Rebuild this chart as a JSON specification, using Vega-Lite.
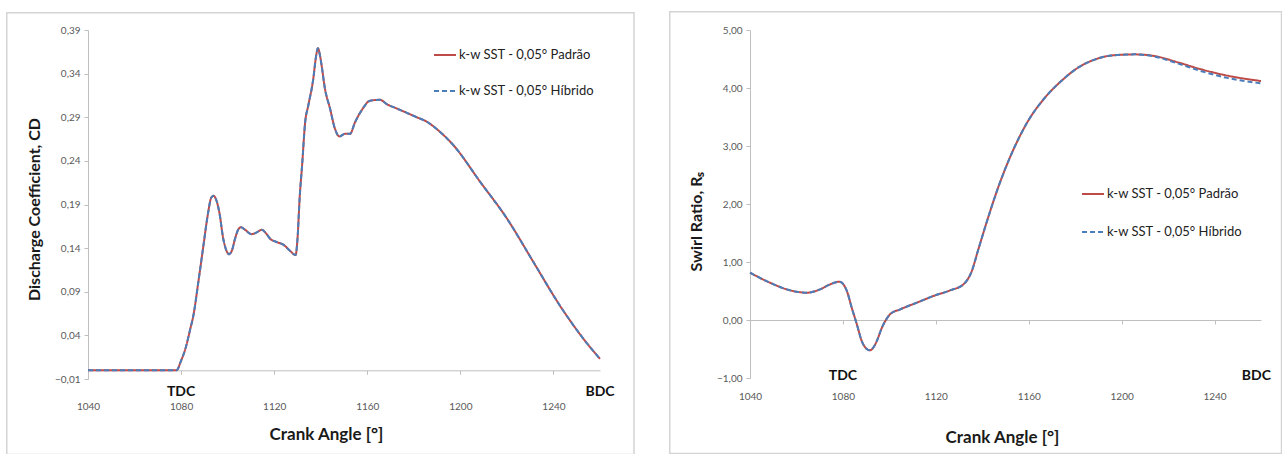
{
  "$schema": "https://vega.github.io/schema/vega-lite/v6.json",
  "padding": {"left": 6, "top": 10, "right": 0, "bottom": 0},
  "background": "white",
  "spacing": 33,
  "config": {
    "font": "Lato",
    "view": {"stroke": null},
    "axis": {
      "grid": false,
      "domainColor": "#bfbfbf",
      "tickColor": "#bfbfbf",
      "tickSize": 4,
      "labelFontSize": 10,
      "labelColor": "#595959",
      "labelFlush": false,
      "titleFontWeight": "bold",
      "titleColor": "#1a1a1a"
    }
  },
  "datasets": {
    "cd": [
      {"a": 1040, "P": 0, "H": 0},
      {"a": 1060, "P": 0, "H": 0},
      {"a": 1078, "P": 0, "H": 0},
      {"a": 1080, "P": 0.011, "H": 0.011},
      {"a": 1082, "P": 0.026, "H": 0.026},
      {"a": 1084, "P": 0.048, "H": 0.048},
      {"a": 1085.3, "P": 0.063, "H": 0.063},
      {"a": 1087.4, "P": 0.101, "H": 0.101},
      {"a": 1089.6, "P": 0.143, "H": 0.143},
      {"a": 1091.4, "P": 0.177, "H": 0.177},
      {"a": 1093, "P": 0.198, "H": 0.198},
      {"a": 1094, "P": 0.2, "H": 0.2},
      {"a": 1095, "P": 0.196, "H": 0.196},
      {"a": 1096.5, "P": 0.18, "H": 0.18},
      {"a": 1098.1, "P": 0.151, "H": 0.151},
      {"a": 1099.5, "P": 0.137, "H": 0.137},
      {"a": 1100.6, "P": 0.133, "H": 0.133},
      {"a": 1101.8, "P": 0.137, "H": 0.137},
      {"a": 1103.2, "P": 0.151, "H": 0.151},
      {"a": 1104.5, "P": 0.161, "H": 0.161},
      {"a": 1105.7, "P": 0.164, "H": 0.164},
      {"a": 1107.5, "P": 0.161, "H": 0.161},
      {"a": 1110.3, "P": 0.156, "H": 0.156},
      {"a": 1112.5, "P": 0.158, "H": 0.158},
      {"a": 1114.6, "P": 0.161, "H": 0.161},
      {"a": 1116.5, "P": 0.157, "H": 0.157},
      {"a": 1118.2, "P": 0.151, "H": 0.151},
      {"a": 1121.1, "P": 0.147, "H": 0.147},
      {"a": 1123.9, "P": 0.144, "H": 0.144},
      {"a": 1126.8, "P": 0.137, "H": 0.137},
      {"a": 1129.2, "P": 0.132, "H": 0.132},
      {"a": 1130, "P": 0.15, "H": 0.15},
      {"a": 1131, "P": 0.2, "H": 0.2},
      {"a": 1132, "P": 0.235, "H": 0.235},
      {"a": 1133.3, "P": 0.284, "H": 0.284},
      {"a": 1134.7, "P": 0.304, "H": 0.304},
      {"a": 1136.8, "P": 0.334, "H": 0.334},
      {"a": 1138, "P": 0.36, "H": 0.36},
      {"a": 1138.8, "P": 0.369, "H": 0.369},
      {"a": 1139.6, "P": 0.362, "H": 0.362},
      {"a": 1140.4, "P": 0.349, "H": 0.349},
      {"a": 1141.8, "P": 0.323, "H": 0.323},
      {"a": 1144, "P": 0.3, "H": 0.3},
      {"a": 1146.1, "P": 0.277, "H": 0.277},
      {"a": 1148, "P": 0.268, "H": 0.268},
      {"a": 1150.4, "P": 0.271, "H": 0.271},
      {"a": 1152.6, "P": 0.271, "H": 0.271},
      {"a": 1154.7, "P": 0.284, "H": 0.284},
      {"a": 1157.6, "P": 0.298, "H": 0.298},
      {"a": 1161.2, "P": 0.309, "H": 0.309},
      {"a": 1165.5, "P": 0.31, "H": 0.31},
      {"a": 1168.4, "P": 0.305, "H": 0.305},
      {"a": 1172.7, "P": 0.3, "H": 0.3},
      {"a": 1177, "P": 0.295, "H": 0.295},
      {"a": 1181.3, "P": 0.29, "H": 0.29},
      {"a": 1185.5, "P": 0.285, "H": 0.285},
      {"a": 1190.5, "P": 0.275, "H": 0.275},
      {"a": 1197, "P": 0.258, "H": 0.258},
      {"a": 1208.5, "P": 0.216, "H": 0.216},
      {"a": 1220, "P": 0.174, "H": 0.174},
      {"a": 1231.4, "P": 0.124, "H": 0.124},
      {"a": 1242.8, "P": 0.074, "H": 0.074},
      {"a": 1252.9, "P": 0.036, "H": 0.036},
      {"a": 1260, "P": 0.013, "H": 0.013}
    ],
    "swirl": [
      {"a": 1040, "P": 0.816, "H": 0.816},
      {"a": 1048.6, "P": 0.643, "H": 0.643},
      {"a": 1057.2, "P": 0.512, "H": 0.512},
      {"a": 1064.4, "P": 0.471, "H": 0.471},
      {"a": 1070.2, "P": 0.529, "H": 0.529},
      {"a": 1074.5, "P": 0.615, "H": 0.615},
      {"a": 1078.5, "P": 0.66, "H": 0.66},
      {"a": 1081.7, "P": 0.5, "H": 0.5},
      {"a": 1083.8, "P": 0.212, "H": 0.212},
      {"a": 1086, "P": -0.074, "H": -0.074},
      {"a": 1088.1, "P": -0.362, "H": -0.362},
      {"a": 1090, "P": -0.49, "H": -0.49},
      {"a": 1091.7, "P": -0.523, "H": -0.523},
      {"a": 1093, "P": -0.48, "H": -0.48},
      {"a": 1094.6, "P": -0.362, "H": -0.362},
      {"a": 1096.8, "P": -0.132, "H": -0.132},
      {"a": 1098.5, "P": 0.0, "H": 0.0},
      {"a": 1100.3, "P": 0.098, "H": 0.098},
      {"a": 1104.7, "P": 0.184, "H": 0.184},
      {"a": 1111.9, "P": 0.3, "H": 0.3},
      {"a": 1119, "P": 0.414, "H": 0.414},
      {"a": 1126.2, "P": 0.512, "H": 0.512},
      {"a": 1131.9, "P": 0.615, "H": 0.615},
      {"a": 1135.5, "P": 0.845, "H": 0.845},
      {"a": 1138.1, "P": 1.19, "H": 1.19},
      {"a": 1142.5, "P": 1.764, "H": 1.764},
      {"a": 1146.8, "P": 2.28, "H": 2.28},
      {"a": 1152.5, "P": 2.857, "H": 2.857},
      {"a": 1159.7, "P": 3.43, "H": 3.43},
      {"a": 1166.9, "P": 3.83, "H": 3.83},
      {"a": 1174, "P": 4.12, "H": 4.12},
      {"a": 1181.2, "P": 4.35, "H": 4.35},
      {"a": 1188.4, "P": 4.49, "H": 4.49},
      {"a": 1195.6, "P": 4.56, "H": 4.56},
      {"a": 1205.7, "P": 4.58, "H": 4.58},
      {"a": 1214.3, "P": 4.55, "H": 4.54},
      {"a": 1224.4, "P": 4.44, "H": 4.42},
      {"a": 1234.4, "P": 4.32, "H": 4.29},
      {"a": 1245.9, "P": 4.21, "H": 4.17},
      {"a": 1260, "P": 4.12, "H": 4.08}
    ],
    "markers1": [
      {"a": 1080, "t": "TDC"},
      {"a": 1260, "t": "BDC"}
    ],
    "markers2": [
      {"a": 1080, "t": "TDC"},
      {"a": 1258, "t": "BDC"}
    ]
  },
  "hconcat": [
    {
      "width": 512,
      "height": 349,
      "layer": [
        {
          "data": {"values": [{}]},
          "mark": {"type": "rect", "filled": false, "stroke": "#d4d4d4", "strokeWidth": 1.5},
          "encoding": {
            "x": {"datum": 1005.09, "type": "quantitative", "title": "Crank Angle [°]"},
            "x2": {"datum": 1274.61},
            "y": {"datum": 0.40977, "type": "quantitative", "title": "Discharge Coefficient, CD"},
            "y2": {"datum": -0.09653}
          }
        },
        {
          "data": {"name": "cd"},
          "mark": {"type": "line", "interpolate": "monotone", "strokeWidth": 2},
          "encoding": {
            "x": {
              "field": "a", "type": "quantitative", "title": "Crank Angle [°]",
              "scale": {"domain": [1040, 1260], "nice": false, "zero": false},
              "axis": {"values": [1040, 1080, 1120, 1160, 1200, 1240], "format": "d", "offset": -8.7, "labelPadding": 27, "titleFontSize": 17, "titlePadding": 15, "titleX": 238}
            },
            "y": {
              "field": "P", "type": "quantitative", "title": "Discharge Coefficient, CD",
              "scale": {"domain": [-0.01, 0.39], "nice": false, "zero": false},
              "axis": {"values": [-0.01, 0.04, 0.09, 0.14, 0.19, 0.24, 0.29, 0.34, 0.39], "labelExpr": "replace(format(datum.value, '.2f'), '.', ',')", "labelPadding": 4, "titleFontSize": 16, "titlePadding": 12, "titleY": 179}
            },
            "color": {
              "datum": "k-w SST - 0,05° Padrão", "type": "nominal",
              "scale": {"domain": ["k-w SST - 0,05° Padrão", "k-w SST - 0,05° Híbrido"], "range": ["#be4b48", "#4a7ebb"]},
              "legend": {"orient": "none", "legendX": 345, "legendY": 13, "title": null, "symbolType": "stroke", "symbolSize": 484, "symbolStrokeWidth": 2, "labelFontSize": 13, "labelColor": "#222222", "rowPadding": 17, "labelOffset": 2, "padding": 0}
            },
            "strokeDash": {
              "datum": "k-w SST - 0,05° Padrão", "type": "nominal",
              "scale": {"domain": ["k-w SST - 0,05° Padrão", "k-w SST - 0,05° Híbrido"], "range": [[1, 0], [5, 3]]},
              "legend": {"orient": "none", "legendX": 345, "legendY": 13, "title": null, "symbolType": "stroke", "symbolSize": 484, "symbolStrokeWidth": 2, "labelFontSize": 13, "labelColor": "#222222", "rowPadding": 17, "labelOffset": 2, "padding": 0}
            }
          }
        },
        {
          "data": {"name": "cd"},
          "mark": {"type": "line", "interpolate": "monotone", "strokeWidth": 2},
          "encoding": {
            "x": {"field": "a", "type": "quantitative", "title": "Crank Angle [°]"},
            "y": {"field": "H", "type": "quantitative", "title": "Discharge Coefficient, CD"},
            "color": {"datum": "k-w SST - 0,05° Híbrido", "type": "nominal"},
            "strokeDash": {"datum": "k-w SST - 0,05° Híbrido", "type": "nominal"}
          }
        },
        {
          "data": {"name": "markers1"},
          "mark": {"type": "text", "fontWeight": "bold", "fontSize": 14, "color": "#111111", "align": "center", "baseline": "middle"},
          "encoding": {
            "x": {"field": "a", "type": "quantitative", "title": "Crank Angle [°]"},
            "y": {"datum": -0.025, "type": "quantitative", "title": "Discharge Coefficient, CD"},
            "text": {"field": "t"}
          }
        }
      ]
    },
    {
      "width": 511,
      "height": 348,
      "layer": [
        {
          "data": {"values": [{}]},
          "mark": {"type": "rect", "filled": false, "stroke": "#d4d4d4", "strokeWidth": 1.5},
          "encoding": {
            "x": {"datum": 1005.45, "type": "quantitative", "title": "Crank Angle [°]"},
            "x2": {"datum": 1268.83},
            "y": {"datum": 5.3147, "type": "quantitative", "title": "Swirl Ratio, Rₛ"},
            "y2": {"datum": -2.3017}
          }
        },
        {
          "data": {"name": "swirl"},
          "mark": {"type": "line", "interpolate": "monotone", "strokeWidth": 2},
          "encoding": {
            "x": {
              "field": "a", "type": "quantitative", "title": "Crank Angle [°]",
              "scale": {"domain": [1040, 1260], "nice": false, "zero": false},
              "axis": {"values": [1040, 1080, 1120, 1160, 1200, 1240], "format": "d", "offset": -58, "labelPadding": 67, "titleFontSize": 17, "titlePadding": 28, "titleX": 252}
            },
            "y": {
              "field": "P", "type": "quantitative", "title": "Swirl Ratio, Rₛ",
              "scale": {"domain": [-1, 5], "nice": false, "zero": false},
              "axis": {"values": [-1, 0, 1, 2, 3, 4, 5], "labelExpr": "replace(format(datum.value, '.2f'), '.', ',')", "labelPadding": 4, "titleFontSize": 16, "titlePadding": 12, "titleY": 191}
            },
            "color": {
              "datum": "k-w SST - 0,05° Padrão", "type": "nominal",
              "scale": {"domain": ["k-w SST - 0,05° Padrão", "k-w SST - 0,05° Híbrido"], "range": ["#be4b48", "#4a7ebb"]},
              "legend": {"orient": "none", "legendX": 331, "legendY": 152, "title": null, "symbolType": "stroke", "symbolSize": 484, "symbolStrokeWidth": 2, "labelFontSize": 13, "labelColor": "#222222", "rowPadding": 19, "labelOffset": 2, "padding": 0}
            },
            "strokeDash": {
              "datum": "k-w SST - 0,05° Padrão", "type": "nominal",
              "scale": {"domain": ["k-w SST - 0,05° Padrão", "k-w SST - 0,05° Híbrido"], "range": [[1, 0], [5, 3]]},
              "legend": {"orient": "none", "legendX": 331, "legendY": 152, "title": null, "symbolType": "stroke", "symbolSize": 484, "symbolStrokeWidth": 2, "labelFontSize": 13, "labelColor": "#222222", "rowPadding": 19, "labelOffset": 2, "padding": 0}
            }
          }
        },
        {
          "data": {"name": "swirl"},
          "mark": {"type": "line", "interpolate": "monotone", "strokeWidth": 2},
          "encoding": {
            "x": {"field": "a", "type": "quantitative", "title": "Crank Angle [°]"},
            "y": {"field": "H", "type": "quantitative", "title": "Swirl Ratio, Rₛ"},
            "color": {"datum": "k-w SST - 0,05° Híbrido", "type": "nominal"},
            "strokeDash": {"datum": "k-w SST - 0,05° Híbrido", "type": "nominal"}
          }
        },
        {
          "data": {"name": "markers2"},
          "mark": {"type": "text", "fontWeight": "bold", "fontSize": 14, "color": "#111111", "align": "center", "baseline": "middle"},
          "encoding": {
            "x": {"field": "a", "type": "quantitative", "title": "Crank Angle [°]"},
            "y": {"datum": -0.97, "type": "quantitative", "title": "Swirl Ratio, Rₛ"},
            "text": {"field": "t"}
          }
        }
      ]
    }
  ],
  "resolve": {
    "scale": {"color": "independent", "strokeDash": "independent"},
    "legend": {"color": "independent", "strokeDash": "independent"}
  }
}
